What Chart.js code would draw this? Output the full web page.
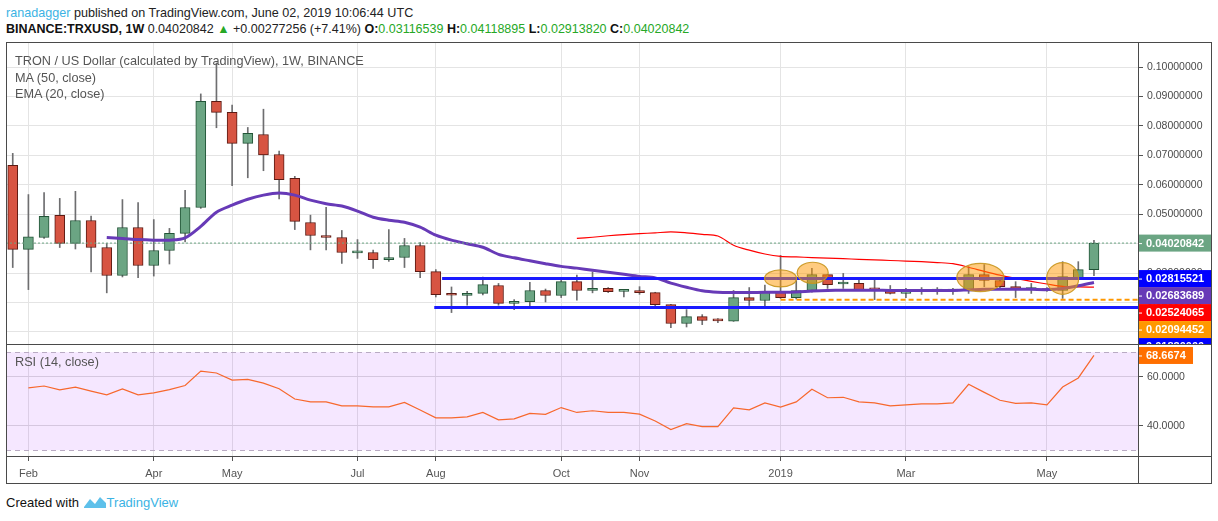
<!DOCTYPE html>
<html>
<head>
<meta charset="utf-8">
<title>TRXUSD 1W</title>
<script src="https://cdn.jsdelivr.net/npm/chart.js@4.4.1/dist/chart.umd.min.js"></script>
<style>
  body { margin: 0; background: #fff; font-family: "Liberation Sans", Arial, sans-serif; }
  #page { position: relative; width: 1218px; height: 521px; overflow: hidden; }
  .txt { position: absolute; white-space: nowrap; line-height: 16px; }
  .hd1 { left: 6px; top: 5px; font-size: 12.6px; color: #222; }
  .hd2 { left: 6px; top: 21px; font-size: 12.5px; color: #222; }
  .hd2 b { font-weight: bold; color: #111; }
  .grn { color: #26a826; }
  .user { color: #3bb3e4; }
  .leg { left: 15px; font-size: 12.7px; color: #555; z-index: 5; }
  .line { position: absolute; background: #4a4a4a; z-index: 6; }
  canvas { position: absolute; }
  .foot { left: 6px; top: 495px; font-size: 13px; color: #111; }
  .foot span { color: #3bb3e4; }
</style>
</head>
<body>
<div id="page">
  <div class="txt hd1"><span class="user">ranadagger</span> published on TradingView.com, June 02, 2019 10:06:44 UTC</div>
  <div class="txt hd2"><b>BINANCE:TRXUSD, 1W</b> 0.04020842 <span class="grn">▲</span> +0.00277256 (+7.41%) <b>O:</b><span class="grn">0.03116539</span> <b>H:</b><span class="grn">0.04118895</span> <b>L:</b><span class="grn">0.02913820</span> <b>C:</b><span class="grn">0.04020842</span></div>

  <canvas id="price" width="1205" height="303" style="left:6px;top:42px"></canvas>
  <canvas id="rsi" width="1205" height="139" style="left:6px;top:345px"></canvas>

  <div class="txt leg" style="top:53px">TRON / US Dollar (calculated by TradingView), 1W, BINANCE</div>
  <div class="txt leg" style="top:70px">MA (50, close)</div>
  <div class="txt leg" style="top:86px">EMA (20, close)</div>
  <div class="txt leg" style="top:354px">RSI (14, close)</div>

  <!-- frame and pane separators -->
  <div class="line" style="left:6px;top:42px;width:1206px;height:1px"></div>
  <div class="line" style="left:6px;top:344px;width:1206px;height:1px"></div>
  <div class="line" style="left:6px;top:456px;width:1206px;height:1px"></div>
  <div class="line" style="left:6px;top:483px;width:1206px;height:1px"></div>
  <div class="line" style="left:6px;top:42px;width:1px;height:442px"></div>
  <div class="line" style="left:1138px;top:42px;width:1px;height:442px"></div>
  <div class="line" style="left:1211px;top:42px;width:1px;height:442px"></div>

  <div class="txt foot">Created with
    <svg width="24" height="14" style="vertical-align:-2px" viewBox="0 0 24 14"><path d="M1 12 L7 4 L12 9 L17 2 L23 8 L23 13 L1 13 Z" fill="#5ec0ea"/></svg><span>TradingView</span></div>
</div>

<script>
// weekly candles, first one is the week of 29 Jan 2018
const weekTickAt = [1, 9, 14, 22, 27, 35, 40, 49, 57, 66];
const weekTickText = ['Feb', 'Apr', 'May', 'Jul', 'Aug', 'Oct', 'Nov', '2019', 'Mar', 'May'];

const opens = [0.0666, 0.0381, 0.0421, 0.0496, 0.0401, 0.0479, 0.0387, 0.0292, 0.0455, 0.0326,
  0.0377, 0.0435, 0.0523, 0.0884, 0.0846, 0.0741, 0.0771, 0.0703, 0.0622, 0.0472,
  0.0428, 0.0421, 0.0369, 0.0370, 0.0346, 0.0353, 0.0394, 0.0305, 0.0226, 0.0224,
  0.0231, 0.0258, 0.0197, 0.0203, 0.0241, 0.0224, 0.0271, 0.0241, 0.0248, 0.0238,
  0.0241, 0.0234, 0.0193, 0.0129, 0.0152, 0.0140, 0.0137, 0.0217, 0.0207, 0.0237,
  0.0217, 0.0241, 0.0295, 0.0263, 0.0265, 0.0245, 0.0241, 0.0231, 0.0238, 0.0239,
  0.0239, 0.0241, 0.0295, 0.0275, 0.0254, 0.0244, 0.0242, 0.0241, 0.0285, 0.03116539];
const highs = [0.0707, 0.0567, 0.0574, 0.0554, 0.0578, 0.0494, 0.0401, 0.0550, 0.0540, 0.0482,
  0.0452, 0.0581, 0.0909, 0.1014, 0.0871, 0.0795, 0.0857, 0.0715, 0.0629, 0.0497,
  0.0524, 0.0445, 0.0414, 0.0378, 0.0448, 0.0418, 0.0404, 0.0312, 0.0253, 0.0238,
  0.0287, 0.0265, 0.0210, 0.0269, 0.0246, 0.0279, 0.0293, 0.0304, 0.0251, 0.0245,
  0.0254, 0.0235, 0.0194, 0.0176, 0.0159, 0.0146, 0.0241, 0.0251, 0.0259, 0.0360,
  0.0275, 0.0316, 0.0296, 0.0299, 0.0278, 0.0285, 0.0258, 0.0248, 0.0251, 0.0251,
  0.0248, 0.0322, 0.0329, 0.0277, 0.0271, 0.0265, 0.0251, 0.0339, 0.0339, 0.04118895];
const lows = [0.0319, 0.0244, 0.0418, 0.0387, 0.0382, 0.0304, 0.0233, 0.0287, 0.0285, 0.0290,
  0.0331, 0.0406, 0.0520, 0.0794, 0.0597, 0.0624, 0.0648, 0.0552, 0.0448, 0.0379,
  0.0379, 0.0333, 0.0350, 0.0316, 0.0340, 0.0319, 0.0285, 0.0219, 0.0166, 0.0191,
  0.0226, 0.0191, 0.0176, 0.0183, 0.0202, 0.0217, 0.0208, 0.0233, 0.0234, 0.0219,
  0.0228, 0.0183, 0.0115, 0.0117, 0.0125, 0.0132, 0.0136, 0.0190, 0.0183, 0.0214,
  0.0212, 0.0235, 0.0248, 0.0248, 0.0243, 0.0210, 0.0229, 0.0217, 0.0228, 0.0228,
  0.0228, 0.0231, 0.0254, 0.0248, 0.0217, 0.0231, 0.0238, 0.0214, 0.0285, 0.02913820];
const closes = [0.0381, 0.0423, 0.0493, 0.0401, 0.0479, 0.0387, 0.0292, 0.0455, 0.0326, 0.0377,
  0.0435, 0.0523, 0.0884, 0.0846, 0.0741, 0.0775, 0.0702, 0.0618, 0.0476, 0.0428,
  0.0421, 0.0370, 0.0371, 0.0346, 0.0353, 0.0394, 0.0305, 0.0227, 0.0225, 0.0231,
  0.0261, 0.0197, 0.0203, 0.0241, 0.0224, 0.0271, 0.0241, 0.0248, 0.0237, 0.0240,
  0.0234, 0.0193, 0.0129, 0.0152, 0.0139, 0.0138, 0.0217, 0.0207, 0.0237, 0.0217,
  0.0241, 0.0295, 0.0261, 0.0265, 0.0244, 0.0243, 0.0231, 0.0237, 0.0240, 0.0240,
  0.0241, 0.0295, 0.0275, 0.0254, 0.0244, 0.0245, 0.0241, 0.0288, 0.0312, 0.04020842];

const ema20Start = 6;
const ema20 = [0.0421, 0.0418, 0.0414, 0.0412, 0.0412, 0.0420, 0.0459, 0.0507, 0.0531, 0.0551,
  0.0565, 0.0572, 0.0565, 0.0548, 0.0536, 0.0528, 0.0511, 0.0490, 0.0480, 0.0473,
  0.0456, 0.0429, 0.0412, 0.0400, 0.0388, 0.0364, 0.0352, 0.0342, 0.0332, 0.0323,
  0.0317, 0.0310, 0.0303, 0.0296, 0.0289, 0.0284, 0.0266, 0.0252, 0.0240, 0.0235,
  0.0234, 0.0234, 0.0235, 0.0235, 0.0236, 0.0239, 0.0241, 0.0242, 0.0242, 0.0242,
  0.0241, 0.0241, 0.0241, 0.0241, 0.0241, 0.0243, 0.0245, 0.0245, 0.0245, 0.0245,
  0.0244, 0.0248, 0.0257, 0.02683689];

const ma50Start = 36;
const ma50 = [0.0418, 0.0422, 0.0427, 0.0431, 0.0434, 0.0437, 0.0440, 0.0437, 0.0432, 0.0426,
  0.0395, 0.0378, 0.0365, 0.0357, 0.0355, 0.0353, 0.0351, 0.0349, 0.0347, 0.0345,
  0.0343, 0.0341, 0.0339, 0.0336, 0.0332, 0.0320, 0.0306, 0.0293, 0.0282, 0.0272,
  0.0263, 0.0255, 0.0253, 0.02524065];

const rsi14 = [null, 55.4, 56.2, 54.6, 55.7, 54.1, 52.6, 55.0, 52.6, 53.4,
  54.7, 56.4, 62.3, 61.5, 58.6, 58.9, 57.4, 55.1, 50.9, 49.7,
  49.7, 48.1, 48.1, 47.7, 47.7, 49.5, 46.4, 43.2, 43.2, 43.6,
  45.4, 42.4, 42.8, 45.0, 44.6, 47.4, 45.4, 46.1, 45.4, 45.4,
  44.7, 41.9, 38.4, 40.8, 39.6, 39.6, 47.3, 46.5, 49.3, 47.6,
  49.7, 54.9, 51.4, 51.6, 49.7, 49.3, 48.1, 48.5, 48.9, 48.9,
  49.3, 56.9, 53.6, 50.4, 49.1, 49.3, 48.5, 55.8, 59.5, 68.6674];

// drawn levels: resistance, support, last close, and the orange dashed level
const resistance = 0.02815521;
const resistanceFrom = 27.4;
const support = 0.0183;
const supportFrom = 26.9;
const orangeLevel = 0.02094452;
const orangeFrom = 49;
const lastClose = 0.04020842;

const priceTicks = [0.01, 0.02, 0.03, 0.04, 0.05, 0.06, 0.07, 0.08, 0.09, 0.10];
const rsiTicks = [40, 60];

// highlighted areas (centre in week index / price, half sizes in the same units)
const marks = [
  { x: 49.0, y: 0.0282, dx: 1.02, dy: 0.0029 },
  { x: 51.05, y: 0.0301, dx: 0.99, dy: 0.0036 },
  { x: 61.75, y: 0.0285, dx: 1.5, dy: 0.0048 },
  { x: 67.0, y: 0.0282, dx: 1.02, dy: 0.0054 }
];

const X_MIN = -0.43, X_MAX = 71.81;
const UP = '#6ba583', UP_LINE = '#225437', DOWN = '#d75442', DOWN_LINE = '#5b1a13';
const FONT = { family: '"Liberation Sans", Arial, sans-serif', size: 10.5 };

const isUp = i => closes[i] >= opens[i];

function sizeY(w) {
  return s => { s.width = w; s.paddingTop = 0; s.paddingBottom = 0; };
}
function sizeX(h) {
  return s => { s.height = h; s.paddingLeft = 0; s.paddingRight = 0; };
}

const xScale = (showLabels) => ({
  type: 'linear', min: X_MIN, max: X_MAX, offset: false,
  afterBuildTicks: s => { s.ticks = weekTickAt.map(v => ({ value: v })); },
  afterFit: sizeX(showLabels ? 27 : 0),
  border: { display: false },
  grid: { color: '#e4e4e4', offset: false, drawTicks: showLabels, tickLength: 4, tickColor: '#555' },
  ticks: {
    display: showLabels, autoSkip: false, maxRotation: 0, padding: 6,
    color: '#555', font: { family: FONT.family, size: 11 },
    callback: v => weekTickText[weekTickAt.indexOf(v)]
  }
});

// price tags on the right axis, pushed down when they overlap
function tagPlugin(tags, boxW) {
  return {
    id: 'tags',
    afterDraw(chart) {
      const { ctx, chartArea } = chart;
      const y = chart.scales.y;
      const list = tags.map(t => ({ ...t, py: y.getPixelForValue(t.value) })).sort((a, b) => a.py - b.py);
      let prev = -100;
      ctx.save();
      ctx.font = 'bold 11px ' + FONT.family;
      ctx.textBaseline = 'middle';
      list.forEach(t => {
        const cy = Math.max(t.py, prev + 17);
        prev = cy;
        ctx.fillStyle = t.color;
        ctx.fillRect(chartArea.right, cy - 8.5, boxW, 17);
        ctx.fillStyle = '#fff';
        ctx.fillRect(chartArea.right, cy, 4, 1);
        ctx.fillText(t.text, chartArea.right + 8, cy + 0.5);
      });
      ctx.restore();
    }
  };
}

const ellipsePlugin = {
  id: 'marks',
  afterDatasetsDraw(chart) {
    const { ctx, chartArea, scales: { x, y } } = chart;
    ctx.save();
    ctx.beginPath();
    ctx.rect(chartArea.left, chartArea.top, chartArea.width, chartArea.height);
    ctx.clip();
    marks.forEach(m => {
      const cx = x.getPixelForValue(m.x), cy = y.getPixelForValue(m.y);
      const rx = Math.abs(x.getPixelForValue(m.x + m.dx) - cx);
      const ry = Math.abs(y.getPixelForValue(m.y + m.dy) - cy);
      ctx.beginPath();
      ctx.ellipse(cx, cy, rx, ry, 0, 0, Math.PI * 2);
      ctx.fillStyle = 'rgba(255,152,0,0.5)';
      ctx.fill();
      ctx.lineWidth = 1.2;
      ctx.strokeStyle = 'rgba(200,150,30,0.9)';
      ctx.stroke();
    });
    ctx.restore();
  }
};

const levelLine = (value, from, color, width, dash) => ({
  type: 'line', order: 0,
  data: [{ x: from, y: value }, { x: X_MAX, y: value }],
  borderColor: color, borderWidth: width, borderDash: dash || [],
  pointRadius: 0
});

new Chart(document.getElementById('price'), {
  type: 'bar',
  data: {
    datasets: [
      levelLine(lastClose, X_MIN, UP, 1, [2, 2]),
      levelLine(resistance, resistanceFrom, '#1a1aff', 3),
      levelLine(support, supportFrom, '#1a1aff', 3),
      levelLine(orangeLevel, orangeFrom, '#ff9800', 2, [5, 3]),
      {
        type: 'line', label: 'EMA 20', order: 1,
        data: ema20.map((v, i) => ({ x: i + ema20Start, y: v })),
        borderColor: '#673ab7', borderWidth: 3, pointRadius: 0, tension: 0.3
      },
      {
        type: 'line', label: 'MA 50', order: 1,
        data: ma50.map((v, i) => ({ x: i + ma50Start, y: v })),
        borderColor: '#ff0000', borderWidth: 1.2, pointRadius: 0, tension: 0.3
      },
      {
        label: 'body', order: 2, grouped: false,
        data: opens.map((o, i) => ({ x: i, y: [o, closes[i]] })),
        backgroundColor: c => isUp(c.dataIndex) ? UP : DOWN,
        borderColor: c => isUp(c.dataIndex) ? UP_LINE : DOWN_LINE,
        borderWidth: 1, borderSkipped: false, barThickness: 10, minBarLength: 2
      },
      {
        label: 'wick', order: 3, grouped: false,
        data: lows.map((l, i) => ({ x: i, y: [l, highs[i]] })),
        backgroundColor: '#6e6e70', borderWidth: 0, barThickness: 1
      }
    ]
  },
  options: {
    responsive: false, animation: false,
    layout: { padding: 0 },
    plugins: { legend: { display: false }, tooltip: { enabled: false } },
    scales: {
      x: xScale(false),
      y: {
        position: 'right', min: 0.00558, max: 0.10854,
        afterBuildTicks: s => { s.ticks = priceTicks.map(v => ({ value: v })); },
        afterFit: sizeY(73),
        border: { display: false },
        grid: { color: '#e4e4e4', tickLength: 5, tickColor: '#555' },
        ticks: { color: '#4a4a4a', font: FONT, padding: 4, callback: v => v.toFixed(8) }
      }
    }
  },
  plugins: [ellipsePlugin, tagPlugin([
    { value: lastClose, text: lastClose.toFixed(8), color: UP },
    { value: resistance, text: resistance.toFixed(8), color: '#0000ff' },
    { value: ema20[ema20.length - 1], text: ema20[ema20.length - 1].toFixed(8), color: '#673ab7' },
    { value: ma50[ma50.length - 1], text: ma50[ma50.length - 1].toFixed(8), color: '#ff0000' },
    { value: orangeLevel, text: orangeLevel.toFixed(8), color: '#ff9800' },
    { value: support, text: support.toFixed(8), color: '#0000ff' }
  ], 73)]
});

const bandPlugin = {
  id: 'band',
  beforeDatasetsDraw(chart) {
    const { ctx, chartArea, scales: { y } } = chart;
    const top = y.getPixelForValue(70), bot = y.getPixelForValue(30);
    ctx.save();
    ctx.fillStyle = 'rgba(153,21,255,0.1)';
    ctx.fillRect(chartArea.left, top, chartArea.width, bot - top);
    ctx.strokeStyle = '#b9abc3';
    ctx.lineWidth = 1;
    ctx.setLineDash([5, 4]);
    [top, bot].forEach(py => {
      ctx.beginPath();
      ctx.moveTo(chartArea.left, Math.round(py) + 0.5);
      ctx.lineTo(chartArea.right, Math.round(py) + 0.5);
      ctx.stroke();
    });
    ctx.restore();
  }
};

new Chart(document.getElementById('rsi'), {
  type: 'line',
  data: {
    datasets: [{
      label: 'RSI',
      data: rsi14.map((v, i) => ({ x: i, y: v })),
      borderColor: '#f7682d', borderWidth: 1.2, pointRadius: 0, spanGaps: false
    }]
  },
  options: {
    responsive: false, animation: false,
    layout: { padding: 0 },
    plugins: { legend: { display: false }, tooltip: { enabled: false } },
    scales: {
      x: xScale(true),
      y: {
        position: 'right', min: 27.22, max: 72.94,
        afterBuildTicks: s => { s.ticks = rsiTicks.map(v => ({ value: v })); },
        afterFit: sizeY(73),
        border: { display: false },
        grid: { color: '#dcdcdc', tickLength: 5, tickColor: '#555' },
        ticks: { color: '#4a4a4a', font: FONT, padding: 4, callback: v => v.toFixed(4) }
      }
    }
  },
  plugins: [bandPlugin, tagPlugin([
    { value: rsi14[rsi14.length - 1], text: rsi14[rsi14.length - 1].toFixed(4), color: '#ff6f00' }
  ], 55)]
});
</script>
</body>
</html>
